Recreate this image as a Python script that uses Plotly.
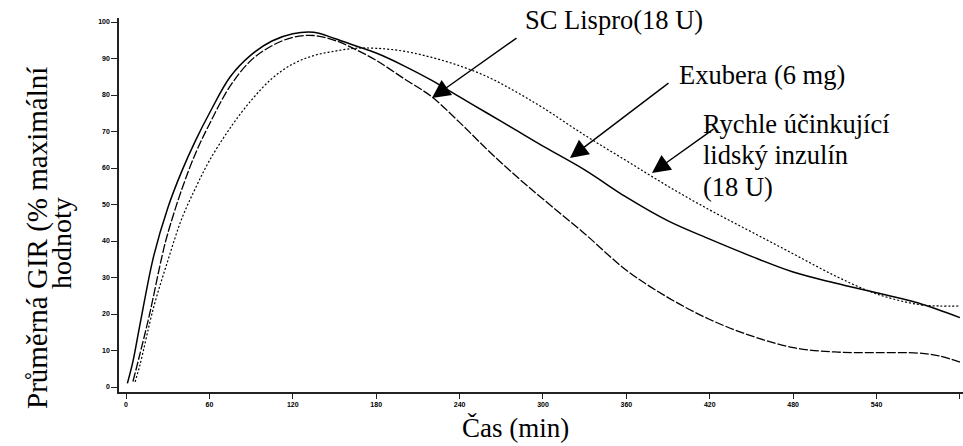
import plotly.graph_objects as go

# ---- data ----
exubera_t = [1, 5, 10, 20, 30, 40, 50, 60, 75, 90, 105, 120, 135, 150, 165, 180, 200, 220, 240,
             260, 280, 300, 330, 360, 390, 420, 450, 480, 510, 540, 570, 600]
exubera_v = [1, 7, 17, 36, 49, 59, 67.5, 75, 85, 91, 94.8, 96.8, 97.2, 95.5, 93.5, 91.5, 88, 84, 79.5,
             75, 70.5, 66, 59.5, 52, 45.5, 40.5, 35.8, 31.5, 28.5, 25.8, 23, 19]

lispro_t = [5, 10, 17, 26, 30, 40, 50, 60, 75, 90, 105, 120, 135, 150, 165, 180, 200, 220, 240,
            260, 280, 300, 330, 360, 390, 420, 450, 480, 510, 540, 570, 585, 600]
lispro_v = [1.5, 9, 20, 36, 42, 54, 64, 72, 82.5, 89.5, 93.5, 95.8, 96.3, 95, 92.5, 89.5, 84.5, 79.5, 72.5,
            65, 58, 51.5, 42, 32, 24.5, 18.5, 14, 10.8, 9.6, 9.4, 9.3, 8.5, 6.8]

human_t = [6.5, 10, 20, 30, 40, 50, 60, 75, 90, 105, 120, 135, 150, 165, 180, 200, 220, 240, 260,
           280, 300, 330, 360, 390, 420, 450, 480, 510, 540, 570, 585, 600]
human_v = [1.4, 6, 22, 34.5, 46, 54.5, 62, 71, 78.5, 84.5, 88.5, 90.8, 92, 92.8, 92.8, 92, 90.3, 88, 85,
           81, 76.5, 69, 62, 55, 48.5, 42.5, 36.5, 30.5, 25.5, 22.6, 22.2, 22.2]

x_ticks = [0, 60, 120, 180, 240, 300, 360, 420, 480, 540, 600]
y_ticks = [0, 10, 20, 30, 40, 50, 60, 70, 80, 90, 100]

serif = "Liberation Serif, Times New Roman, serif"
tickfont = dict(family="Liberation Sans, Arial", size=7, color="black")

fig = go.Figure()
fig.add_trace(go.Scatter(x=exubera_t, y=exubera_v, mode="lines", line=dict(color="black", width=1.5, shape="spline"),
                         name="Exubera (6 mg)"))
fig.add_trace(go.Scatter(x=lispro_t, y=lispro_v, mode="lines",
                         line=dict(color="black", width=1.3, dash="9px,2px", shape="spline"), name="SC Lispro"))
fig.add_trace(go.Scatter(x=human_t, y=human_v, mode="lines",
                         line=dict(color="black", width=1.2, dash="2px,2px", shape="spline"), name="Human"))

fig.update_layout(
    width=963, height=446,
    margin=dict(l=119, r=0, t=18, b=54),
    paper_bgcolor="white", plot_bgcolor="white",
    showlegend=False,
    xaxis=dict(range=[-5.04, 602.2], tickvals=x_ticks, ticktext=["<b>%d</b>" % v for v in x_ticks],
               showgrid=False, zeroline=False, showline=True, linecolor="#222", linewidth=1.5,
               ticks="outside", ticklen=5, tickwidth=1.2, tickcolor="#222", automargin=False,
               tickfont=tickfont),
    yaxis=dict(range=[-1.37, 101.1], tickvals=y_ticks, ticktext=["<b>%d</b>" % v for v in y_ticks],
               showgrid=False, zeroline=False, showline=True, linecolor="#222", linewidth=1.5,
               ticks="outside", ticklen=6, tickwidth=1.2, tickcolor="#222", automargin=False,
               tickfont=tickfont),
)

ann = []
# axis titles
ann.append(dict(text="Čas (min)", xref="paper", yref="paper", x=(515 - 119) / 844, y=(392 - 428) / 374,
                xanchor="center", yanchor="middle", showarrow=False,
                font=dict(family=serif, size=27, color="black")))
ann.append(dict(text="Průměrná GIR (% maximální", xref="paper", yref="paper",
                x=(37 - 119) / 844, y=(392 - 238) / 374, textangle=-90,
                xanchor="center", yanchor="middle", showarrow=False,
                font=dict(family=serif, size=29, color="black")))
ann.append(dict(text="hodnoty", xref="paper", yref="paper",
                x=(61 - 119) / 844, y=(392 - 243) / 374, textangle=-90,
                xanchor="center", yanchor="middle", showarrow=False,
                font=dict(family=serif, size=28, color="black")))

def px_to_data(px, py):
    return (px - 126) / 1.39, (387 - py) / 3.65

arrow_style = dict(showarrow=True, arrowhead=2, arrowsize=2.6, arrowwidth=1.4, arrowcolor="black",
                   axref="pixel", ayref="pixel", text="")
for tip, tail in [((432, 98), (518, 37)), ((570, 158), (670, 82)), ((652, 173), (715, 128))]:
    tx, ty = px_to_data(*tip)
    ann.append(dict(x=tx, y=ty, xref="x", yref="y", ax=tail[0] - tip[0], ay=tail[1] - tip[1], **arrow_style))

labels = [("SC Lispro(18 U)", 523, 20), ("Exubera (6 mg)", 677, 75),
          ("Rychle účinkující", 701, 124), ("lidský inzulín", 701, 155), ("(18 U)", 701, 187)]
for txt, lx, ly in labels:
    ann.append(dict(text=txt, xref="paper", yref="paper", x=(lx - 119) / 844, y=(392 - ly) / 374,
                    xanchor="left", yanchor="middle", showarrow=False,
                    font=dict(family=serif, size=26.5, color="black")))

fig.update_layout(annotations=ann)
fig.write_html("out.html", config={"displayModeBar": False},
               post_script="document.body.style.margin='0';document.body.style.overflow='hidden';")
